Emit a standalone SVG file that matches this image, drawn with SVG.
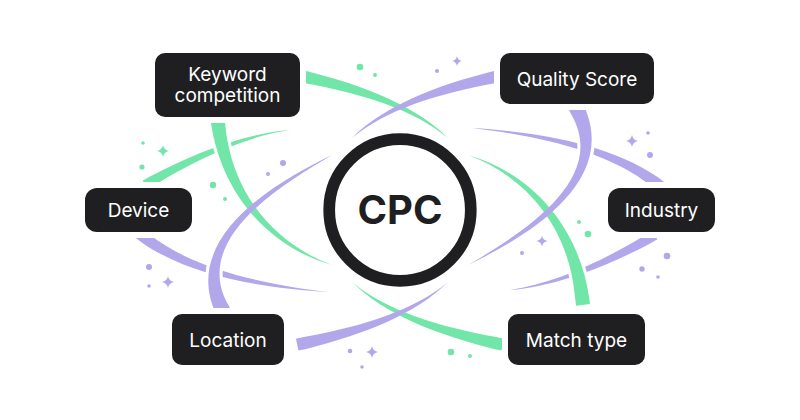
<svg xmlns="http://www.w3.org/2000/svg" width="800" height="420" viewBox="0 0 800 420">
<style>
.g{fill:#72e6a9}
.p{fill:#b3a7ec}
.halo{fill:#fff;stroke:#fff;stroke-width:6;stroke-linejoin:round}
.node rect{fill:#1f1f22;stroke:#fff;stroke-width:12;paint-order:stroke}
.node text{fill:#fff;font-family:Inter,"Liberation Sans",sans-serif;font-size:19px;font-weight:400;text-anchor:middle}
.cpc{fill:#1f1f22;font-family:Inter,"Liberation Sans",sans-serif;font-size:40px;font-weight:700;text-anchor:middle}
</style>
<defs>
<path id="s1" d="M298.5,69.4 L306.3,71.1 C366.1,86.2 416,106.3 448,138 C414,109.7 363.9,93.85 303.7,82.9 L295.9,81.2 Z"/>
<path id="s2" d="M223.95,114.3 L224.95,122.2 C231.2,195.3 276.3,244.4 332,265 C273.7,248.4 222.8,199.3 211.05,123.8 L210.05,115.9 Z"/>
<path id="s2m" d="M581.1,100.5 L584.7,107.6 C618.55,184.3 522,239 468,265 C519.6,234.6 609.45,180.1 571.3,114.4 L567.7,107.3 Z"/>
<path id="s3" d="M147.6,189.3 L154.5,185.3 C192.4,161.4 245.7,136.1 290,130 C244.7,132.9 189.4,155.4 149.5,176.7 L142.6,180.7 Z"/>
<path id="s4" d="M658.1,191.2 L651.7,186.4 C605.65,149.4 531.56,135.2 472,128 C532.04,131.6 608.35,142.6 658.3,177.6 L664.7,182.4 Z"/>
<path id="star" d="M0,-6 Q0.9,-0.9 6,0 Q0.9,0.9 0,6 Q-0.9,0.9 -6,0 Q-0.9,-0.9 0,-6 Z"/>
</defs>
<g id="connectors">
<use href="#s3" class="g"/>
<use href="#s4" class="p"/>
<use href="#s3" class="p" transform="rotate(180 400 210)"/>
<use href="#s4" class="p" transform="rotate(180 400 210)"/>
<use href="#s2" class="halo"/>
<use href="#s2" class="halo" transform="rotate(180 400 210)"/>
<use href="#s2m" class="halo"/>
<use href="#s2m" class="halo" transform="rotate(180 400 210)"/>
<use href="#s2" class="g"/>
<use href="#s2" class="g" transform="rotate(180 400 210)"/>
<use href="#s2m" class="p"/>
<use href="#s2m" class="p" transform="rotate(180 400 210)"/>
<use href="#s1" class="g"/>
<use href="#s1" class="g" transform="rotate(180 400 210)"/>
<use href="#s1" class="p" transform="matrix(-1 0 0 1 800 0)"/>
<use href="#s1" class="p" transform="rotate(180 400 210) matrix(-1 0 0 1 800 0)"/>
</g>
<g id="sparkles">
<g class="g">
<circle cx="360" cy="67" r="3.3"/><circle cx="375" cy="75" r="2"/>
<circle cx="143" cy="143" r="1.8"/><circle cx="142" cy="167" r="2.6"/>
<circle cx="213" cy="185" r="3.2"/><circle cx="225" cy="199" r="2"/>
<circle cx="579" cy="222" r="2"/><circle cx="588" cy="234" r="3.3"/>
<circle cx="451" cy="352" r="3.3"/><circle cx="470" cy="356" r="2"/>
<use href="#star" transform="translate(163 151)"/>
</g>
<g class="p">
<circle cx="283" cy="163" r="3"/><circle cx="268" cy="174" r="2"/>
<circle cx="437" cy="71" r="2"/><circle cx="648" cy="133" r="1.8"/>
<circle cx="650" cy="155" r="3"/><circle cx="149" cy="267" r="3"/>
<circle cx="149" cy="286" r="1.8"/><circle cx="350" cy="351" r="2.3"/>
<circle cx="362" cy="367" r="1.8"/><circle cx="522" cy="253" r="2"/>
<circle cx="667" cy="256" r="3.3"/><circle cx="642" cy="269" r="2.7"/>
<circle cx="658" cy="277" r="1.8"/>
<use href="#star" transform="translate(457 61) scale(0.85)"/>
<use href="#star" transform="translate(632 141)"/>
<use href="#star" transform="translate(168 282)"/>
<use href="#star" transform="translate(372 352)"/>
<use href="#star" transform="translate(542 241) scale(0.92)"/>
</g>
</g>
<g id="cpc">
<circle cx="400" cy="210" r="70.8" fill="none" stroke="#1f1f22" stroke-width="11.7"/>
<text class="cpc" x="400" y="224">CPC</text>
</g>
<g id="n-keyword" class="node">
<rect x="155" y="53" width="145" height="64" rx="10"/>
<text x="227.5" y="81">Keyword</text>
<text x="227.5" y="102">competition</text>
</g>
<g id="n-quality" class="node">
<rect x="500" y="53" width="154" height="51" rx="10"/>
<text x="577" y="86">Quality Score</text>
</g>
<g id="n-device" class="node">
<rect x="85" y="188" width="107" height="44" rx="12"/>
<text x="138.5" y="217">Device</text>
</g>
<g id="n-industry" class="node">
<rect x="608" y="188" width="107" height="44" rx="12"/>
<text x="661.5" y="217">Industry</text>
</g>
<g id="n-location" class="node">
<rect x="172" y="314" width="112" height="51" rx="10"/>
<text x="228" y="346.5">Location</text>
</g>
<g id="n-match" class="node">
<rect x="508" y="314" width="137" height="51" rx="10"/>
<text x="576.5" y="346.5">Match type</text>
</g>
</svg>
